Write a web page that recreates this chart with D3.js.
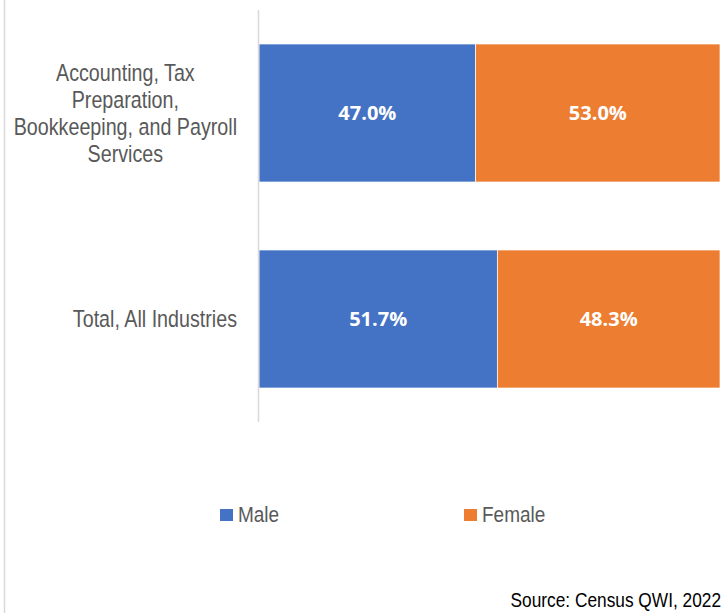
<!DOCTYPE html>
<html lang="en">
<head>
<meta charset="UTF-8">
<title>Male vs Female share</title>
<script src="https://d3js.org/d3.v7.min.js"></script>
<style>
  body { margin: 0; background: #fff; }
  svg { display: block; }
</style>
</head>
<body>
<div id="chart"></div>
<script>
// data
const categories = [
  ["Accounting, Tax", "Preparation,", "Bookkeeping, and Payroll", "Services"],
  ["Total, All Industries"]
];
const categoryKeys = ["Accounting", "Total"];
const series = ["Male", "Female"];
const maleValues = [47.0, 51.7];
const femaleValues = [53.0, 48.3];
const colors = ["#4472C4", "#ED7D31"];
const source = "Source: Census QWI, 2022";

const W = 725, H = 613;
const sy = 1.2; // the original text looks a bit stretched vertically
const labelFont = "'Liberation Sans', Arial, sans-serif";
const svg = d3.select("#chart").append("svg").attr("width", W).attr("height", H);

// left frame line
svg.append("line").attr("x1", 4.5).attr("x2", 4.5).attr("y1", 0).attr("y2", H)
  .attr("stroke", "#d9d9d9").attr("stroke-width", 1.5);

const x = d3.scaleLinear().domain([0, 100]).range([259, 720]);
const y = d3.scaleBand().domain(categoryKeys).range([10, 422]).paddingInner(0.33).paddingOuter(0.165);

const rows = categoryKeys.map((k, i) => ({ key: k, lines: categories[i], vals: [maleValues[i], femaleValues[i]] }));

rows.forEach(r => {
  let start = 0;
  r.vals.forEach((v, j) => {
    svg.append("rect")
      .attr("x", x(start)).attr("y", y(r.key))
      .attr("width", x(start + v) - x(start)).attr("height", y.bandwidth())
      .attr("fill", colors[j]).attr("stroke", "#fff").attr("stroke-width", 0.7);
    svg.append("text")
      .attr("x", (x(start) + x(start + v)) / 2)
      .attr("y", y(r.key) + y.bandwidth() / 2)
      .attr("dy", "0.36em").attr("text-anchor", "middle")
      .attr("fill", "#fff").attr("font-family", "'Open Sans', sans-serif")
      .attr("font-weight", "bold").attr("font-size", 20)
      .text(v.toFixed(1) + "%");
    start += v;
  });
});

// axis line
svg.append("line").attr("x1", 258.5).attr("x2", 258.5).attr("y1", 10).attr("y2", 422)
  .attr("stroke", "#d9d9d9").attr("stroke-width", 1.5);

// category labels: block right-aligned, lines centred
rows.forEach(r => {
  const n = r.lines.length, lh = 27 / sy;
  const cy = y(r.key) + y.bandwidth() / 2;
  const g = svg.append("g");
  const t = g.append("text").attr("text-anchor", "middle")
    .attr("font-family", labelFont).attr("font-size", 19.7)
    .attr("fill", "#595959");
  const spans = r.lines.map((ln, i) => t.append("tspan").attr("x", 0)
    .attr("y", (i - (n - 1) / 2) * lh).attr("dy", "0.35em").text(ln));
  const maxW = d3.max(spans, s => s.node().getComputedTextLength());
  g.attr("transform", `translate(${237 - maxW / 2},${cy}) scale(1,${sy})`);
});

// legend
const legendX = [220, 464];
series.forEach((s, i) => {
  svg.append("rect").attr("x", legendX[i]).attr("y", 509).attr("width", 13).attr("height", 12)
    .attr("fill", colors[i]);
  svg.append("text").attr("transform", `translate(${legendX[i] + 18},522) scale(1,${sy})`)
    .attr("font-family", labelFont).attr("font-size", 19)
    .attr("fill", "#595959").text(s);
});

// source
svg.append("text").attr("transform", `translate(721,607) scale(1,${sy})`).attr("text-anchor", "end")
  .attr("font-family", labelFont).attr("font-size", 17.3)
  .attr("fill", "#000").text(source);
</script>
</body>
</html>
